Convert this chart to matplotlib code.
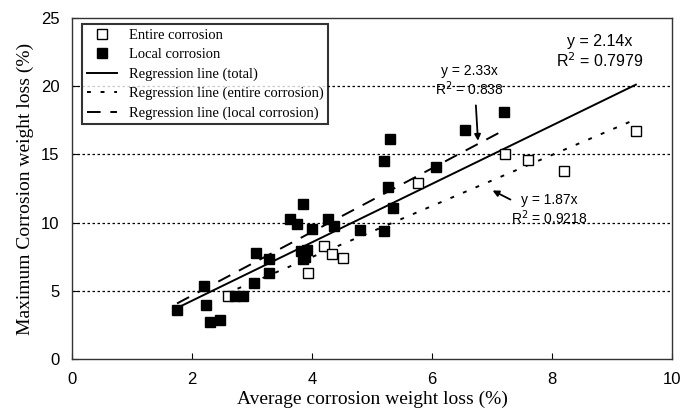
import numpy as np
import matplotlib.pyplot as plt

# data
entire_x = [2.6, 3.93, 4.2, 4.33, 4.52, 5.77, 7.22, 7.6, 8.2, 9.4]
entire_y = [4.6, 6.3, 8.3, 7.7, 7.4, 12.9, 15.0, 14.6, 13.8, 16.7]

local_x = [1.75, 2.2, 2.23, 2.3, 2.47, 2.72, 2.85, 3.03, 3.07, 3.28,
           3.28, 3.63, 3.75, 3.85, 3.82, 3.88, 3.92, 3.85, 4.0, 4.27,
           4.37, 4.8, 5.2, 5.2, 5.27, 5.3, 5.35, 6.07, 6.55, 7.2]
local_y = [3.6, 5.35, 3.95, 2.75, 2.9, 4.65, 4.65, 5.55, 7.75, 7.35,
           6.3, 10.3, 9.9, 11.4, 7.9, 7.5, 8.0, 7.3, 9.55, 10.3,
           9.75, 9.45, 9.4, 14.5, 12.6, 16.1, 11.1, 14.1, 16.8, 18.1]

slope_total, r2_total = 2.14, 0.7979
slope_entire, r2_entire = 1.87, 0.9218
slope_local, r2_local = 2.33, 0.838

serif = 'Liberation Serif'
sans = 'Liberation Sans'

fig = plt.figure(figsize=(6.8, 4.19), dpi=100)
ax = fig.add_axes([0.106, 0.143, 0.882, 0.814])

for yv in [5, 10, 15, 20]:
    ax.axhline(yv, color='black', lw=0.9, ls=(0, (2, 2)), zorder=0)

# regression lines through the origin
xt = np.array([min(local_x), max(entire_x)])
xe = np.array([min(entire_x) - 0.05, max(entire_x)])
xl = np.array([min(local_x), max(local_x)])

ax.plot(entire_x, entire_y, 's', ms=7, mfc='white', mec='black', mew=1.0,
        label='Entire corrosion', zorder=3)
ax.plot(local_x, local_y, 's', ms=7, mfc='black', mec='black',
        label='Local corrosion', zorder=3)
ax.plot(xt, slope_total * xt, '-', color='black', lw=1.4,
        label='Regression line (total)', zorder=2)
ax.plot(xe, slope_entire * xe, color='black', lw=1.4, ls=(0, (2, 5)),
        label='Regression line (entire corrosion)', zorder=2)
ax.plot(xl, slope_local * xl, color='black', lw=1.4, ls=(0, (7, 5)),
        label='Regression line (local corrosion)', zorder=2)

ax.text(8.8, 22.5, 'y = %.2fx\nR$^2$ = %.4f' % (slope_total, r2_total),
        ha='center', va='center', fontsize=11.5, family=sans, linespacing=1.1)
ax.text(6.63, 20.4, 'y = %.2fx\nR$^2$ = %.3f' % (slope_local, r2_local),
        ha='center', va='center', fontsize=10, family=sans, linespacing=1.1)
ax.annotate('', xy=(6.77, 15.8), xytext=(6.73, 18.8),
            arrowprops=dict(arrowstyle='-|>', color='black', lw=1.3,
                            mutation_scale=9))
ax.text(7.95, 10.9, 'y = %.2fx\nR$^2$ = %.4f' % (slope_entire, r2_entire),
        ha='center', va='center', fontsize=10, family=sans, linespacing=1.1)
ax.annotate('', xy=(6.97, 12.45), xytext=(7.35, 11.6),
            arrowprops=dict(arrowstyle='-|>', color='black', lw=1.3,
                            mutation_scale=9))

ax.set_xlim(0, 10)
ax.set_ylim(0, 25)
ax.set_xticks(range(0, 11, 2))
ax.set_yticks(range(0, 26, 5))
ax.tick_params(direction='in', length=4, width=0.8, labelsize=12)
ax.tick_params(axis='x', pad=9)
ax.tick_params(axis='y', pad=9)
for lab in ax.get_xticklabels() + ax.get_yticklabels():
    lab.set_family(sans)
for s in ax.spines.values():
    s.set_color('#333333')
    s.set_linewidth(1.0)

ax.set_xlabel('Average corrosion weight loss (%)', family=serif, fontsize=14, labelpad=3)
ax.set_ylabel('Maximum Corrosion weight loss (%)', family=serif, fontsize=14, labelpad=5)

leg = ax.legend(loc='upper left', bbox_to_anchor=(0.012, 0.99), prop={'family': serif, 'size': 10.5},
                frameon=True, fancybox=False, handlelength=2.1, borderpad=0.3,
                labelspacing=0.42, handletextpad=0.8, borderaxespad=0.2)
leg.get_frame().set_edgecolor('black')
leg.get_frame().set_linewidth(1.5)

fig.savefig('out.png', dpi=100)
